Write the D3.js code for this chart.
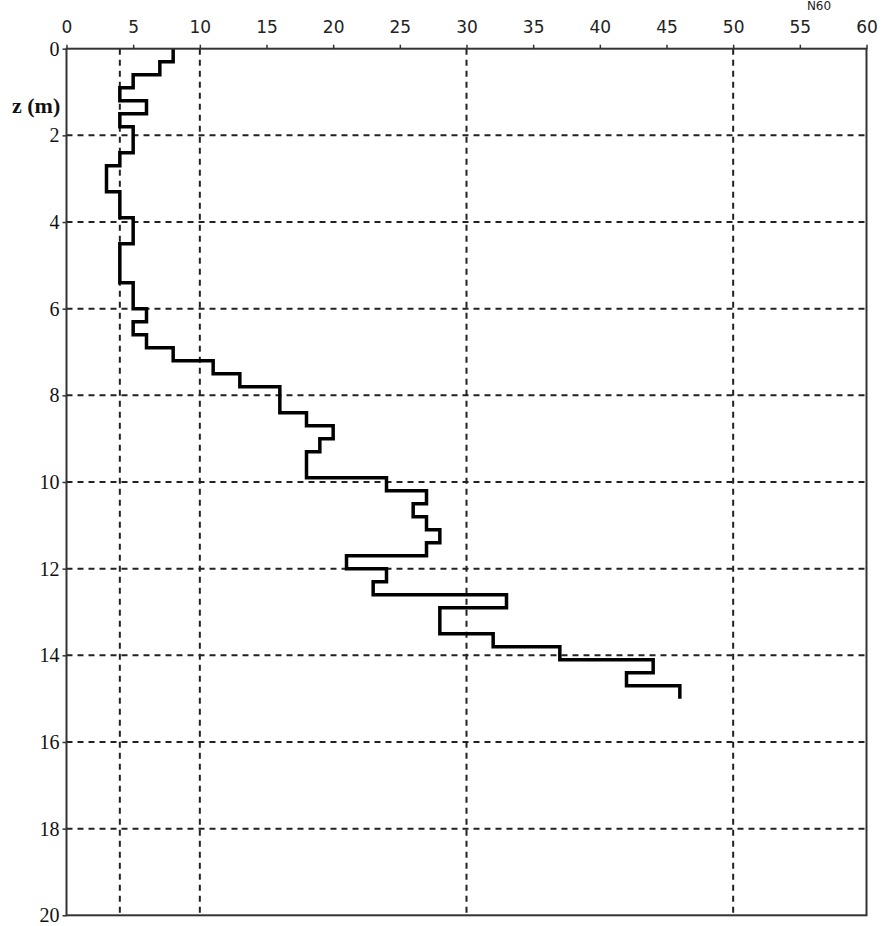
<!DOCTYPE html>
<html>
<head>
<meta charset="utf-8">
<script src="https://cdn.jsdelivr.net/npm/d3@7"></script>
<style>
  body { margin: 0; background: #fff; }
  svg { display: block; }
</style>
</head>
<body>
<svg id="chart" width="889" height="926"></svg>
<script>
// layer boundaries (m) and N value of each layer
var depths = [0, 0.3, 0.6, 0.9, 1.2, 1.5, 1.8, 2.1, 2.4, 2.7, 3.0,
              3.3, 3.6, 3.9, 4.2, 4.5, 4.8, 5.1, 5.4, 5.7, 6.0,
              6.3, 6.6, 6.9, 7.2, 7.5, 7.8, 8.1, 8.4, 8.7, 9.0,
              9.3, 9.6, 9.9, 10.2, 10.5, 10.8, 11.1, 11.4, 11.7, 12.0,
              12.3, 12.6, 12.9, 13.2, 13.5, 13.8, 14.1, 14.4, 14.7, 15.0];
var nValues = [8, 7, 5, 4, 6, 4, 5, 5, 4, 3,
               3, 4, 4, 5, 5, 4, 4, 4, 5, 5,
               6, 5, 6, 8, 11, 13, 16, 16, 18, 20,
               19, 18, 18, 24, 27, 26, 27, 28, 27, 21,
               24, 23, 33, 28, 28, 32, 37, 44, 42, 46];
var xTicks = [0, 5, 10, 15, 20, 25, 30, 35, 40, 45, 50, 55, 60];
var yTicks = [0, 2, 4, 6, 8, 10, 12, 14, 16, 18, 20];
var xGrid = [4, 10, 30, 50];
var yGrid = [2, 4, 6, 8, 10, 12, 14, 16, 18];

var svg = d3.select("svg#chart");
var x = d3.scaleLinear().domain([0, 60]).range([66.5, 866.5]);
var y = d3.scaleLinear().domain([0, 20]).range([48.7, 915.3]);

// dashed grid
svg.selectAll("line.vgrid").data(xGrid).enter().append("line")
   .attr("class", "vgrid")
   .attr("x1", function(d){ return x(d); })
   .attr("x2", function(d){ return x(d); })
   .attr("y1", y(0))
   .attr("y2", y(20))
   .attr("stroke", "#222")
   .attr("stroke-width", 2)
   .attr("stroke-dasharray", "6,5");
svg.selectAll("line.hgrid").data(yGrid).enter().append("line")
   .attr("class", "hgrid")
   .attr("x1", x(0))
   .attr("x2", x(60))
   .attr("y1", function(d){ return y(d); })
   .attr("y2", function(d){ return y(d); })
   .attr("stroke", "#222")
   .attr("stroke-width", 2)
   .attr("stroke-dasharray", "6,5");

// step profile
var pts = [];
for(var i=0; i<nValues.length; i++){
  pts.push([nValues[i], depths[i]]);
  pts.push([nValues[i], depths[i+1]]);
}
var line = d3.line()
  .x(function(d){ return x(d[0]); })
  .y(function(d){ return y(d[1]); });
svg.append("path")
   .attr("d", line(pts))
   .attr("fill", "none")
   .attr("stroke", "#000")
   .attr("stroke-width", 3.5)
   .attr("stroke-linejoin", "miter");

// frame
svg.append("rect")
   .attr("x", x(0))
   .attr("y", y(0))
   .attr("width", x(60) - x(0))
   .attr("height", y(20) - y(0))
   .attr("fill", "none")
   .attr("stroke", "#333")
   .attr("stroke-width", 2);

// axes
var xAxis = svg.append("g")
   .attr("transform", "translate(0," + y(0) + ")")
   .call(d3.axisTop(x).tickValues(xTicks).tickSize(4).tickPadding(12));
xAxis.select(".domain").remove();
xAxis.selectAll("line").attr("stroke", "#333").attr("stroke-width", 1.5);
xAxis.selectAll("text")
   .attr("fill", "#222")
   .style("font-family", "'DejaVu Sans', Verdana, sans-serif")
   .style("font-size", "17px");

var yAxis = svg.append("g")
   .attr("transform", "translate(" + x(0) + ",0)")
   .call(d3.axisLeft(y).tickValues(yTicks).tickSize(4).tickPadding(3));
yAxis.select(".domain").remove();
yAxis.selectAll("line").attr("stroke", "#333").attr("stroke-width", 1.5);
yAxis.selectAll("text")
   .attr("fill", "#111")
   .style("font-family", "'Liberation Serif', 'Times New Roman', serif")
   .style("font-size", "20px");

// labels
svg.append("text")
   .text("z (m)")
   .attr("x", 12)
   .attr("y", 113)
   .attr("fill", "#111")
   .style("font-family", "'Liberation Serif', 'Times New Roman', serif")
   .style("font-weight", "bold")
   .style("font-size", "22px");
svg.append("text")
   .text("N60")
   .attr("x", 819)
   .attr("y", 10)
   .attr("text-anchor", "middle")
   .attr("fill", "#222")
   .style("font-family", "'DejaVu Sans', Verdana, sans-serif")
   .style("font-size", "12px");
</script>
</body>
</html>
